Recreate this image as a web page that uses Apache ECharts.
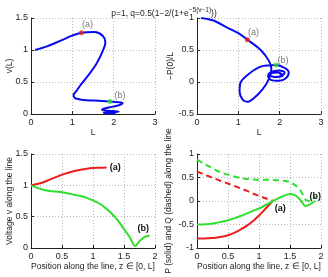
<!DOCTYPE html>
<html>
<head>
<meta charset="utf-8">
<script src="https://cdn.jsdelivr.net/npm/echarts@6/dist/echarts.min.js"></script>
<style>
  html, body { margin: 0; padding: 0; background: #fff; }
  #chart { width: 328px; height: 277px; }
</style>
</head>
<body>
<div id="chart"></div>
<script>
// parameter sweep over line length L (top row)
const lengthL = [0.1, 0.4, 0.73, 0.98, 1.22, 1.54, 1.74, 1.8, 1.74, 1.58, 1.38, 1.22, 1.1, 1.03, 1.06, 1.26, 1.54, 1.91, 2.12, 2.22, 2.15, 1.98, 1.8, 1.72, 1.78, 1.98, 2.12, 2.05, 1.88, 1.76, 1.8, 1.95, 2.05, 2.0];
const voltEnd = [1.0, 1.06, 1.15, 1.22, 1.27, 1.28, 1.22, 1.12, 0.99, 0.78, 0.6, 0.47, 0.36, 0.3, 0.25, 0.22, 0.21, 0.195, 0.185, 0.17, 0.14, 0.115, 0.09, 0.07, 0.055, 0.045, 0.04, 0.032, 0.025, 0.02, 0.015, 0.012, 0.01, 0.01];
const negP0overL = [1.0, 0.96, 0.85, 0.77, 0.66, 0.5, 0.33, 0.2, 0.05, -0.12, -0.25, -0.31, -0.27, -0.15, 0.0, 0.13, 0.24, 0.265, 0.22, 0.15, 0.06, 0.02, 0.03, 0.09, 0.15, 0.18, 0.15, 0.09, 0.08, 0.11, 0.14, 0.15, 0.12, 0.1];

// marked solutions (a) and (b)
const pointA = { L: 1.22, v: 1.27, p: 0.66 };
const pointB = { L: 1.91, v: 0.195, p: 0.265 };

// profiles along the line (bottom row)
const zA = [0, 0.1, 0.2, 0.3, 0.4, 0.5, 0.6, 0.7, 0.8, 0.9, 1.0, 1.1, 1.22];
const vA = [1.0, 1.02, 1.05, 1.09, 1.13, 1.17, 1.2, 1.23, 1.25, 1.265, 1.275, 1.28, 1.285];
const pA = [-0.8, -0.8, -0.79, -0.78, -0.76, -0.73, -0.68, -0.61, -0.53, -0.43, -0.31, -0.17, 0.0];
const qA = [0.63, 0.57, 0.52, 0.47, 0.42, 0.37, 0.32, 0.27, 0.22, 0.16, 0.11, 0.06, 0.01];

const zB = [0, 0.1, 0.2, 0.3, 0.4, 0.5, 0.6, 0.7, 0.8, 0.9, 1.0, 1.1, 1.2, 1.3, 1.4, 1.5, 1.6, 1.68, 1.75, 1.82, 1.91];
const vB = [1.0, 0.96, 0.93, 0.91, 0.9, 0.89, 0.87, 0.85, 0.83, 0.8, 0.76, 0.71, 0.64, 0.55, 0.44, 0.3, 0.16, 0.03, 0.11, 0.17, 0.2];
const pB = [-0.5, -0.5, -0.49, -0.47, -0.44, -0.41, -0.37, -0.32, -0.27, -0.21, -0.16, -0.09, -0.02, 0.05, 0.11, 0.15, 0.11, 0.0, -0.11, -0.07, 0.0];
const qB = [0.88, 0.8, 0.73, 0.66, 0.6, 0.56, 0.52, 0.49, 0.47, 0.46, 0.45, 0.45, 0.45, 0.44, 0.43, 0.4, 0.32, 0.2, 0.03, 0.0, 0.1];

const FONT = 'Liberation Sans, Arial, sans-serif';
const BLUE = '#0a0aee';
const RED = '#ee1c1c';
const GREEN = '#2ee02e';

const pairs = (xs, ys) => xs.map((x, i) => [x, ys[i]]);

function axis(idx, min, max, interval, name, nameGap, isY) {
  return {
    type: 'value',
    gridIndex: idx,
    min: min,
    max: max,
    interval: interval,
    name: name,
    nameLocation: 'middle',
    nameGap: nameGap,
    nameTextStyle: { fontFamily: FONT, fontSize: 8.5, color: '#222' },
    axisLine: { show: true, onZero: false, lineStyle: { color: '#222', width: 1 } },
    axisTick: { show: true, inside: true, length: 3, lineStyle: { color: '#222' } },
    axisLabel: { fontFamily: FONT, fontSize: 9, color: '#222', margin: isY ? 3 : 4 },
    splitLine: { show: true, lineStyle: { color: '#b8b8b8', type: [1, 2], width: 1 } },
  };
}

function marker(idx, x, y, color, text, offset) {
  return {
    type: 'scatter',
    xAxisIndex: idx,
    yAxisIndex: idx,
    symbol: 'circle',
    symbolSize: 5,
    itemStyle: { color: color },
    label: {
      show: true,
      formatter: text,
      position: 'top',
      offset: offset,
      fontFamily: FONT,
      fontSize: 9,
      color: '#555',
    },
    data: [[x, y]],
    z: 5,
  };
}

function curve(idx, data, color, dashed, endText, endOffset) {
  const s = {
    type: 'line',
    xAxisIndex: idx,
    yAxisIndex: idx,
    data: data,
    showSymbol: false,
    smooth: 0.3,
    lineStyle: { color: color, width: 2, type: dashed ? [6, 4] : 'solid' },
  };
  if (endText) {
    s.endLabel = {
      show: true,
      formatter: endText,
      offset: endOffset,
      fontFamily: FONT,
      fontSize: 9,
      fontWeight: 'bold',
      color: '#111',
    };
  }
  return s;
}

// rotated y-axis titles, placed beside each panel
function yTitle(text, x, y) {
  return {
    type: 'text',
    x: x,
    y: y,
    rotation: Math.PI / 2,
    style: {
      text: text,
      align: 'center',
      verticalAlign: 'middle',
      fontFamily: FONT,
      fontSize: 8.5,
      fill: '#222',
    },
  };
}

const chart = echarts.init(document.getElementById('chart'));
chart.setOption({
  animation: false,
  backgroundColor: '#fff',
  title: {
    text: '{n|p=1, q=0.5(1−2/(1+e}{s|−5(v−1)}{n|))}',
    left: 'center',
    top: 2,
    textStyle: {
      fontFamily: FONT,
      fontWeight: 'normal',
      rich: {
        n: { fontFamily: FONT, fontSize: 8.5, color: '#222', lineHeight: 11, verticalAlign: 'bottom' },
        s: { fontFamily: FONT, fontSize: 6.5, color: '#222', lineHeight: 11, verticalAlign: 'top' },
      },
    },
  },
  grid: [
    { left: 31, top: 18, width: 124, height: 96 },
    { left: 197, top: 18, width: 124, height: 96 },
    { left: 31, top: 154, width: 124, height: 94 },
    { left: 197, top: 154, width: 124, height: 94 },
  ],
  xAxis: [
    axis(0, 0, 3, 1, 'L', 13, false),
    axis(1, 0, 3, 1, 'L', 13, false),
    axis(2, 0, 2, 0.5, 'Position along the line, z ∈ [0, L]', 14, false),
    axis(3, 0, 2, 0.5, 'Position along the line, z ∈ [0, L]', 14, false),
  ],
  yAxis: [
    axis(0, 0, 1.5, 0.5, '', 0, true),
    axis(1, -0.5, 1, 0.5, '', 0, true),
    axis(2, 0, 1.5, 0.5, '', 0, true),
    axis(3, -1, 1, 0.5, '', 0, true),
  ],
  graphic: [
    yTitle('v(L)', 10, 66),
    yTitle('−P(0)/L', 171, 66),
    yTitle('Voltage v along the line', 10, 201),
    yTitle('P (solid) and Q (dashed) along the line', 169, 201),
  ],
  series: [
    curve(0, pairs(lengthL, voltEnd), BLUE),
    marker(0, pointA.L, pointA.v, RED, '(a)', [6, 4]),
    marker(0, pointB.L, pointB.v, GREEN, '(b)', [10, 6]),

    curve(1, pairs(lengthL, negP0overL), BLUE),
    marker(1, pointA.L, pointA.p, RED, '(a)', [6, 5]),
    marker(1, pointB.L, pointB.p, GREEN, '(b)', [7, 7]),

    curve(2, pairs(zA, vA), RED, false, '(a)', [-5, 0]),
    curve(2, pairs(zB, vB), GREEN, false, '(b)', [-20, -7]),

    curve(3, pairs(zA, pA), RED, false, '(a)', [-6, 8]),
    curve(3, pairs(zA, qA), RED, true),
    curve(3, pairs(zB, pB), GREEN, false, '(b)', [-14, -4]),
    curve(3, pairs(zB, qB), GREEN, true),
  ],
});
</script>
</body>
</html>
